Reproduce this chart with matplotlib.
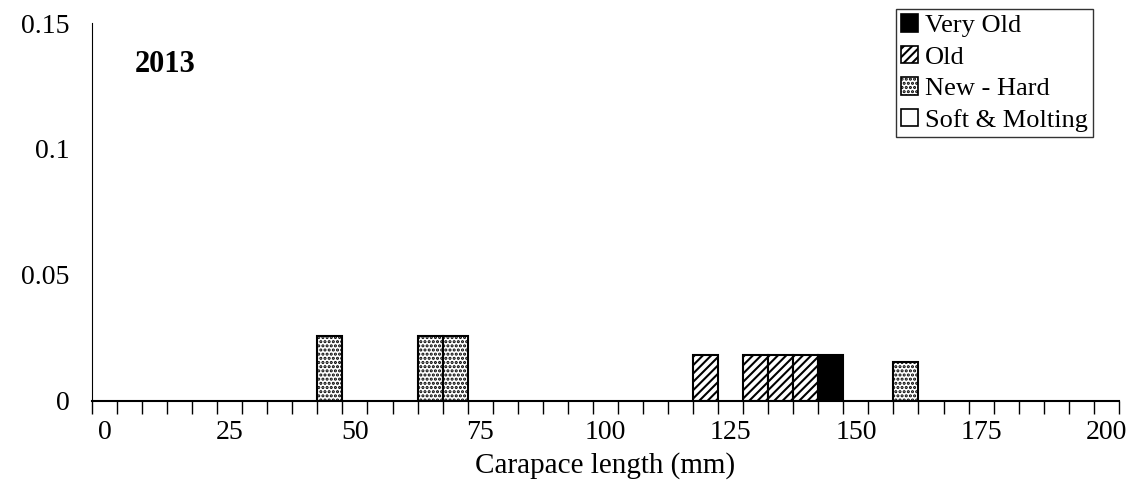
import matplotlib.pyplot as plt
from matplotlib.patches import Patch

plt.rcParams['font.family'] = ['Liberation Serif', 'DejaVu Serif']
plt.rcParams['hatch.linewidth'] = 1.5

# category axis: one slot per 5 mm size class
size_classes = list(range(0, 201, 5))
bar_classes = [45, 65, 70, 120, 130, 135, 140, 145, 160]
heights = [0.0256, 0.0256, 0.0256, 0.0182, 0.0182, 0.0182, 0.0182, 0.0182, 0.0155]
stages = ["New - Hard", "New - Hard", "New - Hard", "Old", "Old", "Old", "Old", "Very Old", "New - Hard"]

styles = {
    "Very Old": dict(facecolor="black", hatch=None),
    "Old": dict(facecolor="white", hatch="////"),
    "New - Hard": dict(facecolor="white", hatch="...."),
    "Soft & Molting": dict(facecolor="white", hatch=None),
}

fig = plt.figure(figsize=(11.41, 4.95), dpi=100)
ax = fig.add_axes([0.0806, 0.19, 0.9, 0.7635])

for c, h, s in zip(bar_classes, heights, stages):
    st = styles[s]
    ax.bar(size_classes.index(c), h, width=1, facecolor=st["facecolor"], hatch=st["hatch"],
           edgecolor="black", linewidth=1.5)

n = len(size_classes)
ax.set_xlim(-0.5, n - 0.5)
ax.set_ylim(0, 0.15)
ax.set_xticks(range(0, n, 5))
ax.set_xticklabels([str(v) for v in size_classes[::5]])
ax.set_xticks([i - 0.5 for i in range(n + 1)], minor=True)
ax.tick_params(axis='x', which='major', length=0, labelsize=20, pad=14)
ax.tick_params(axis='x', which='minor', direction='out', length=9, width=1)
ax.set_yticks([0, 0.05, 0.1, 0.15])
ax.set_yticklabels(["0", "0.05", "0.1", "0.15"])
ax.tick_params(axis='y', direction='out', length=0, labelsize=20, pad=16)
ax.spines['top'].set_visible(False)
ax.spines['right'].set_visible(False)
ax.spines['bottom'].set_linewidth(1.5)
ax.set_xlabel("Carapace length (mm)", fontsize=21, labelpad=5)
ax.text(0.042, 0.87, "2013", transform=ax.transAxes, fontsize=22, fontweight="bold")

handles = [Patch(edgecolor="black", linewidth=1.2, **styles[k]) for k in styles]
leg = ax.legend(handles, list(styles), loc="upper right", bbox_to_anchor=(0.975, 1.037),
                fontsize=19, frameon=True, fancybox=False, edgecolor="black",
                handlelength=0.65, handleheight=0.65, handletextpad=0.25,
                labelspacing=0.32, borderpad=0.2, borderaxespad=0)
leg.get_frame().set_linewidth(1)

fig.savefig("out.png")
